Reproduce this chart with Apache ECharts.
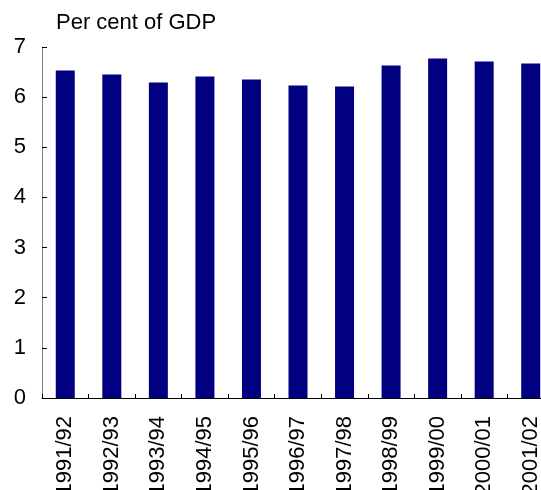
<!DOCTYPE html>
<html>
<head>
<meta charset="utf-8">
<script src="https://cdn.jsdelivr.net/npm/echarts@6/dist/echarts.min.js"></script>
<style>html,body{margin:0;padding:0;background:#fff;overflow:hidden;}#c{width:541px;height:490px;}</style>
</head>
<body>
<div id="c"></div>
<script>
const categories = ['1991/92','1992/93','1993/94','1994/95','1995/96','1996/97','1997/98','1998/99','1999/00','2000/01','2001/02'];
const values = [6.53, 6.45, 6.29, 6.41, 6.35, 6.23, 6.21, 6.63, 6.77, 6.71, 6.67];
const yTicks = [0, 1, 2, 3, 4, 5, 6, 7];
const titleText = 'Per cent of GDP';

const chart = echarts.init(document.getElementById('c'), null, {renderer: 'canvas'});
const font = '"Liberation Sans", Arial, sans-serif';
chart.setOption({
  animation: false,
  backgroundColor: '#ffffff',
  title: {
    text: titleText,
    left: 56,
    top: 12,
    padding: 0,
    textStyle: {fontFamily: font, fontSize: 22, fontWeight: 'normal', color: '#000'}
  },
  grid: {left: 42, width: 512, top: 47, bottom: 92, containLabel: false, outerBoundsMode: 'none'},
  xAxis: {
    type: 'category',
    data: categories,
    boundaryGap: true,
    axisLine: {lineStyle: {color: '#000', width: 1}},
    axisTick: {show: true, inside: true, length: 4, alignWithLabel: false, lineStyle: {color: '#000'}},
    axisLabel: {rotate: 90, margin: 18, fontFamily: font, fontSize: 22, color: '#000', interval: 0, hideOverlap: false},
    splitLine: {show: false}
  },
  yAxis: {
    type: 'value',
    min: yTicks[0],
    max: yTicks[yTicks.length - 1],
    interval: 1,
    axisLine: {show: true, lineStyle: {color: '#808080', width: 1}},
    axisTick: {show: true, inside: true, length: 5, lineStyle: {color: '#000'}},
    axisLabel: {margin: 16, fontFamily: font, fontSize: 22, color: '#000'},
    splitLine: {show: false}
  },
  series: [{
    type: 'bar',
    data: values,
    barWidth: 19,
    itemStyle: {color: '#000080'}
  }]
});
</script>
</body>
</html>
